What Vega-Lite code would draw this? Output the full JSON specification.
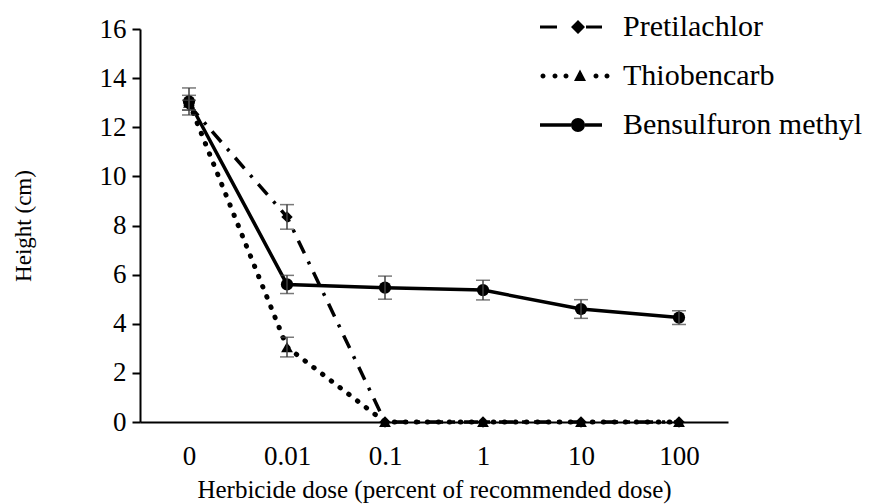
{
  "$schema": "https://vega.github.io/schema/vega-lite/v6.json",
  "width": 588,
  "height": 393,
  "autosize": "none",
  "padding": {"left": 140, "top": 29, "right": 142, "bottom": 82},
  "background": "white",
  "config": {
    "view": {"stroke": null},
    "font": "Liberation Serif",
    "axis": {"grid": false, "labelFont": "Liberation Serif", "titleFont": "Liberation Serif", "labelColor": "black", "titleColor": "black", "titleFontWeight": "normal", "domainColor": "black", "tickColor": "black"},
    "legend": {"labelFont": "Liberation Serif", "titleFont": "Liberation Serif"}
  },
  "data": {
    "values": [
      {"dose": "0", "herbicide": "Pretilachlor", "height": 12.9, "err": 0.2},
      {"dose": "0.01", "herbicide": "Pretilachlor", "height": 8.35, "err": 0.5},
      {"dose": "0.1", "herbicide": "Pretilachlor", "height": 0, "err": 0},
      {"dose": "1", "herbicide": "Pretilachlor", "height": 0, "err": 0},
      {"dose": "10", "herbicide": "Pretilachlor", "height": 0, "err": 0},
      {"dose": "100", "herbicide": "Pretilachlor", "height": 0, "err": 0},
      {"dose": "0", "herbicide": "Thiobencarb", "height": 13.0, "err": 0.3},
      {"dose": "0.01", "herbicide": "Thiobencarb", "height": 3.05, "err": 0.4},
      {"dose": "0.1", "herbicide": "Thiobencarb", "height": 0, "err": 0},
      {"dose": "1", "herbicide": "Thiobencarb", "height": 0, "err": 0},
      {"dose": "10", "herbicide": "Thiobencarb", "height": 0, "err": 0},
      {"dose": "100", "herbicide": "Thiobencarb", "height": 0, "err": 0},
      {"dose": "0", "herbicide": "Bensulfuron methyl", "height": 13.05, "err": 0.55},
      {"dose": "0.01", "herbicide": "Bensulfuron methyl", "height": 5.6, "err": 0.37},
      {"dose": "0.1", "herbicide": "Bensulfuron methyl", "height": 5.47, "err": 0.47},
      {"dose": "1", "herbicide": "Bensulfuron methyl", "height": 5.37, "err": 0.4},
      {"dose": "10", "herbicide": "Bensulfuron methyl", "height": 4.6, "err": 0.38},
      {"dose": "100", "herbicide": "Bensulfuron methyl", "height": 4.25, "err": 0.28}
    ]
  },
  "encoding": {
    "x": {
      "field": "dose", "type": "ordinal",
      "sort": ["0", "0.01", "0.1", "1", "10", "100"],
      "scale": {"type": "point", "padding": 0.5},
      "axis": {
        "title": "Herbicide dose (percent of recommended dose)",
        "labelAngle": 0, "ticks": false, "domainWidth": 2,
        "labelFontSize": 27, "labelPadding": 21,
        "titleFontSize": 25, "titlePadding": 8
      }
    },
    "y": {
      "field": "height", "type": "quantitative",
      "scale": {"domain": [0, 16], "nice": false},
      "axis": {
        "title": "Height (cm)",
        "values": [0, 2, 4, 6, 8, 10, 12, 14, 16],
        "tickSize": 8, "tickWidth": 2, "domainWidth": 2,
        "labelFontSize": 27, "labelPadding": 6,
        "titleFontSize": 23, "titlePadding": 64
      }
    }
  },
  "layer": [
    {
      "transform": [{"filter": "datum.herbicide === 'Bensulfuron methyl'"}],
      "mark": {"type": "line", "color": "black", "strokeWidth": 3.5}
    },
    {
      "transform": [{"filter": "datum.herbicide === 'Pretilachlor'"}],
      "mark": {"type": "line", "color": "black", "strokeWidth": 3.5, "strokeDash": [14, 9, 3, 9]}
    },
    {
      "transform": [{"filter": "datum.herbicide === 'Thiobencarb'"}],
      "mark": {"type": "line", "color": "black", "strokeWidth": 5, "strokeCap": "round", "strokeDash": [0.5, 10.5]}
    },
    {
      "mark": {"type": "point", "filled": true, "color": "black", "opacity": 0},
      "encoding": {
        "shape": {
          "field": "herbicide", "type": "nominal",
          "scale": {
            "domain": ["Pretilachlor", "Thiobencarb", "Bensulfuron methyl"],
            "range": [
              "M-31,-1.5H-14V1.5H-31Z M7,-7L14,0L7,7L0,0Z M15,-1.5H31V1.5H15Z",
              "M-30.5,0A2.5,2.5 0 1,1 -25.5,0A2.5,2.5 0 1,1 -30.5,0Z M-18.5,0A2.5,2.5 0 1,1 -13.5,0A2.5,2.5 0 1,1 -18.5,0Z M-7.5,0A2.5,2.5 0 1,1 -2.5,0A2.5,2.5 0 1,1 -7.5,0Z M9,-6.5L15,5L3,5Z M22.5,0A2.5,2.5 0 1,1 27.5,0A2.5,2.5 0 1,1 22.5,0Z M33.5,0A2.5,2.5 0 1,1 38.5,0A2.5,2.5 0 1,1 33.5,0Z",
              "M-31,-1.75H0V1.75H-31Z M14,-1.75H31V1.75H14Z M0,0A7,7 0 1,1 14,0A7,7 0 1,1 0,0Z"
            ]
          },
          "legend": {
            "title": null, "orient": "none", "legendX": 416, "legendY": -17,
            "padding": 0, "symbolSize": 4, "symbolOpacity": 1,
            "symbolFillColor": "black", "symbolStrokeWidth": 0,
            "labelFont": "Liberation Serif", "labelFontSize": 30, "labelColor": "black",
            "labelOffset": 37, "rowPadding": 19, "labelLimit": 400
          }
        }
      }
    },
    {
      "mark": {"type": "point", "filled": true, "color": "black", "opacity": 1},
      "encoding": {
        "shape": {
          "field": "herbicide", "type": "nominal",
          "scale": {"domain": ["Pretilachlor", "Thiobencarb", "Bensulfuron methyl"], "range": ["diamond", "triangle-up", "circle"]},
          "legend": null
        },
        "size": {
          "field": "herbicide", "type": "ordinal",
          "scale": {"domain": ["Pretilachlor", "Thiobencarb", "Bensulfuron methyl"], "range": [130, 150, 196]},
          "legend": null
        }
      }
    },
    {
      "transform": [{"filter": "datum.err > 0"}],
      "mark": {"type": "errorbar", "color": "#404040", "thickness": 1.5, "ticks": {"size": 14, "color": "#404040"}},
      "encoding": {
        "yError": {"field": "err"}
      }
    }
  ],
  "resolve": {"scale": {"shape": "independent", "size": "independent"}, "legend": {"shape": "independent"}}
}
